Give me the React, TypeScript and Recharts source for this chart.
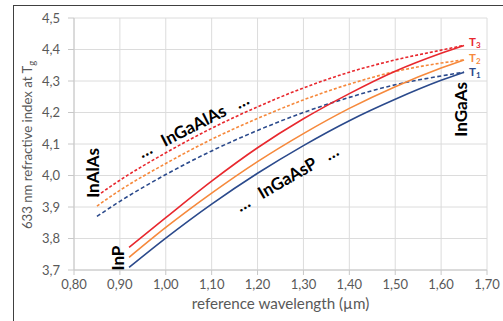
import * as React from "react";
import { LineChart, Line, XAxis, YAxis, CartesianGrid, ReferenceDot } from "recharts";

const RED = "#E8282E";
const ORANGE = "#F6893C";
const BLUE = "#2B4A8C";
const GREY = "#595959";
const FONT = "Lato, 'Open Sans', sans-serif";

// InGaAlAs (dashed), from InAlAs to InGaAs
const wlInGaAlAs = [0.85, 0.9, 1.0, 1.1, 1.2, 1.3, 1.4, 1.5, 1.6, 1.65];
const nInGaAlAsT1 = [3.87, 3.918, 4.003, 4.078, 4.143, 4.2, 4.248, 4.288, 4.316, 4.328];
const nInGaAlAsT2 = [3.903, 3.953, 4.038, 4.115, 4.181, 4.24, 4.29, 4.33, 4.357, 4.367];
const nInGaAlAsT3 = [3.935, 3.985, 4.072, 4.15, 4.218, 4.278, 4.328, 4.367, 4.398, 4.413];

// InGaAsP (solid), from InP to InGaAs
const wlInGaAsP = [0.92, 1.0, 1.1, 1.2, 1.3, 1.4, 1.5, 1.6, 1.65];
const nInGaAsPT1 = [3.708, 3.801, 3.909, 4.007, 4.095, 4.174, 4.242, 4.302, 4.328];
const nInGaAsPT2 = [3.74, 3.835, 3.944, 4.044, 4.133, 4.213, 4.282, 4.341, 4.367];
const nInGaAsPT3 = [3.772, 3.866, 3.982, 4.088, 4.18, 4.26, 4.331, 4.388, 4.413];

const xTicks = [0.8, 0.9, 1.0, 1.1, 1.2, 1.3, 1.4, 1.5, 1.6, 1.7];
const yTicks = [3.7, 3.8, 3.9, 4.0, 4.1, 4.2, 4.3, 4.4, 4.5];

const toRows = (xs: number[], ys: number[]) => xs.map((wl, i) => ({ wl, n: ys[i] }));

const series = [
  { key: "alas-t1", data: toRows(wlInGaAlAs, nInGaAlAsT1), color: BLUE, dash: "4 2.5" },
  { key: "alas-t2", data: toRows(wlInGaAlAs, nInGaAlAsT2), color: ORANGE, dash: "3 2" },
  { key: "alas-t3", data: toRows(wlInGaAlAs, nInGaAlAsT3), color: RED, dash: "3 2" },
  { key: "asp-t1", data: toRows(wlInGaAsP, nInGaAsPT1), color: BLUE, dash: undefined },
  { key: "asp-t2", data: toRows(wlInGaAsP, nInGaAsPT2), color: ORANGE, dash: undefined },
  { key: "asp-t3", data: toRows(wlInGaAsP, nInGaAsPT3), color: RED, dash: undefined },
];

const tempLabels = [
  { sub: "1", color: BLUE, y: nInGaAsPT1[nInGaAsPT1.length - 1], shift: 1 },
  { sub: "2", color: ORANGE, y: nInGaAsPT2[nInGaAsPT2.length - 1], shift: -0.5 },
  { sub: "3", color: RED, y: nInGaAsPT3[nInGaAsPT3.length - 1], shift: -2 },
];

const materials = [
  { txt: "InAlAs", x: 0.841, y: 4.008, rot: -90 },
  { txt: "InP", x: 0.894, y: 3.738, rot: -90 },
  { txt: "InGaAs", x: 1.643, y: 4.21, rot: -90 },
  { txt: "\u2026   InGaAlAs   \u2026", x: 1.06, y: 4.16, rot: -27 },
  { txt: "\u2026   InGaAsP   \u2026", x: 1.264, y: 3.993, rot: -30 },
];

const fmt = (v: number) => v.toFixed(2).replace(".", ",");
const fmtY = (v: number) => v.toFixed(1).replace(".", ",");

const Anno = (props: any) => {
  const { viewBox, txt, rot } = props;
  const cx = viewBox.x + viewBox.width / 2;
  const cy = viewBox.y + viewBox.height / 2;
  return (
    <text
      x={cx}
      y={cy}
      transform={`rotate(${rot}, ${cx}, ${cy})`}
      textAnchor="middle"
      dominantBaseline="central"
      fontFamily={FONT}
      fontWeight={700}
      fontSize={17}
      fill="#000"
      style={{ whiteSpace: "pre" }}
    >
      {txt}
    </text>
  );
};

const TLabel = (props: any) => {
  const { viewBox, sub, tint, shift } = props;
  const x = viewBox.x + 5;
  const y = viewBox.y + shift;
  return (
    <text x={x} y={y + 3} fontFamily={FONT} fontWeight={700} fontSize={11.5} fill={tint}>
      T
      <tspan fontSize={8} dy={2}>
        {sub}
      </tspan>
    </text>
  );
};

const YTitle = (props: any) => {
  const { viewBox } = props;
  const x = viewBox.x + 27;
  const y = viewBox.y + viewBox.height / 2 + 1;
  return (
    <text
      x={x}
      y={y}
      transform={`rotate(-90, ${x}, ${y})`}
      textAnchor="middle"
      dominantBaseline="central"
      fontFamily={FONT}
      fontSize={13.2}
      fill={GREY}
    >
      633 nm refractive index at T
      <tspan fontSize={9.5} dy={4}>
        g
      </tspan>
    </text>
  );
};

const XTitle = (props: any) => {
  const { viewBox } = props;
  return (
    <text
      x={viewBox.x + viewBox.width / 2}
      y={viewBox.y + 39}
      textAnchor="middle"
      fontFamily={FONT}
      fontSize={15.2}
      fill={GREY}
    >
      reference wavelength (µm)
    </text>
  );
};

export default function App() {
  return (
    <div
      style={{
        position: "absolute",
        left: 0,
        top: 0,
        width: 503,
        height: 321,
        overflow: "hidden",
        background: "#fff",
      }}
    >
      <div
        style={{
          position: "absolute",
          left: 13,
          top: 5,
          width: 560,
          height: 380,
          border: "1px solid #404040",
        }}
      />
      <div style={{ position: "absolute", left: 0, top: 0 }}>
        <LineChart width={503} height={321} margin={{ top: 18, right: 16, bottom: 0, left: 0 }}>
          <CartesianGrid stroke="#DCDCDC" />
          <XAxis
            type="number"
            dataKey="wl"
            domain={[0.8, 1.7]}
            ticks={xTicks}
            tickFormatter={fmt}
            height={51}
            tickSize={5}
            tickMargin={5}
            stroke="#C8C8C8"
            tick={{ fill: GREY, fontSize: 13, fontFamily: FONT }}
            allowDuplicatedCategory={false}
            label={<XTitle />}
          />
          <YAxis
            type="number"
            dataKey="n"
            domain={[3.7, 4.5]}
            ticks={yTicks}
            tickFormatter={fmtY}
            width={74}
            tickSize={6}
            tickMargin={8}
            stroke="#C8C8C8"
            tick={{ fill: GREY, fontSize: 13, fontFamily: FONT }}
            label={<YTitle />}
          />
          {series.map((s) => (
            <Line
              key={s.key}
              data={s.data}
              dataKey="n"
              type="monotone"
              stroke={s.color}
              strokeWidth={1.6}
              strokeDasharray={s.dash}
              dot={false}
              activeDot={false}
              isAnimationActive={false}
            />
          ))}
          {tempLabels.map((t) => (
            <ReferenceDot
              key={t.sub}
              x={1.65}
              y={t.y}
              r={0}
              stroke="none"
              fill="none"
              label={<TLabel sub={t.sub} tint={t.color} shift={t.shift} />}
            />
          ))}
          {materials.map((m) => (
            <ReferenceDot
              key={m.txt}
              x={m.x}
              y={m.y}
              r={0}
              stroke="none"
              fill="none"
              label={<Anno txt={m.txt} rot={m.rot} />}
            />
          ))}
        </LineChart>
      </div>
    </div>
  );
}
